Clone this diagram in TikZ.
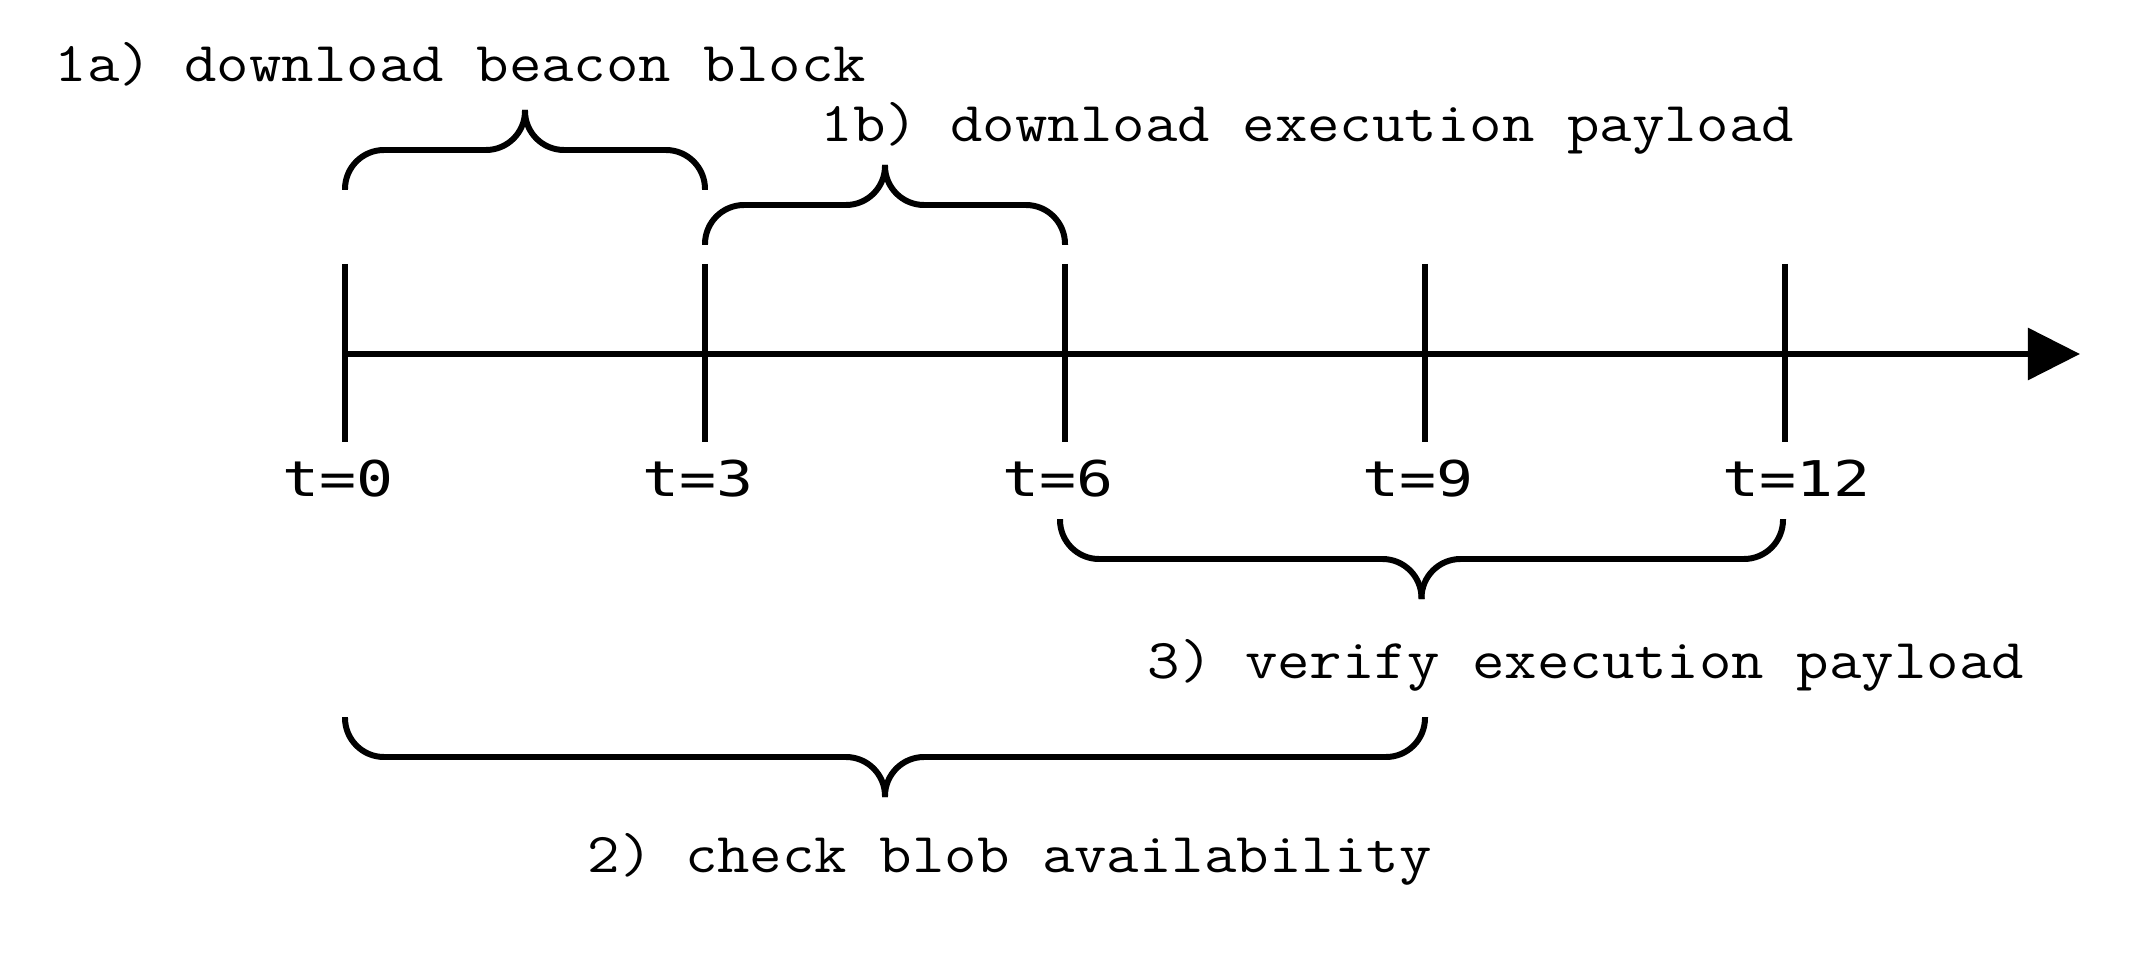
\documentclass[tikz,border=0pt]{standalone}
\usepackage{fontspec}
\newfontfamily\phasefont[FakeStretch=1.12]{Latin Modern Mono}
\newfontfamily\tickfont[FakeStretch=1.25]{DejaVu Sans Mono}
\usetikzlibrary{arrows.meta,positioning}

\tikzset{
  timeline/.style={line width=1.7pt},
  curly/.style={line width=1.7pt, rounded corners=0.39cm},
  phase/.style={font=\phasefont\fontsize{16}{19}\selectfont, inner sep=0pt, anchor=base west},
  stamp/.style={font=\tickfont\fontsize{14}{16}\selectfont, inner sep=0pt, anchor=base west},
}

\begin{document}
\begin{tikzpicture}[x=0.01cm, y=-0.01cm]
\useasboundingbox (0,0) rectangle (2154,970);

% time axis with ticks
\coordinate (tend) at (2080,354);
\foreach \k/\lab in {0/0, 1/3, 2/6, 3/9, 4/12} {
  \coordinate (tick\k) at (345+360*\k,354);
  \draw[timeline] (345+360*\k,264) -- (345+360*\k,442);
  \node[stamp] (stamp\k) at (282+360*\k,496) {t=\lab};
}
\draw[timeline, -{Triangle[length=0.52cm, width=0.51cm]}] (tick0) -- (tend);

% braces: left x / right x / foot y / direction
\foreach \xa/\xb/\yb/\s in {345/705/190/-1, 705/1065/245/-1, 1060/1783/519/1, 345/1425/717/1} {
  \pgfmathsetmacro\xm{(\xa+\xb)/2}
  \draw[curly] (\xa,\yb) -- (\xa,\yb+40*\s) -- (\xm,\yb+40*\s) -- (\xm,\yb+80*\s);
  \draw[curly] (\xb,\yb) -- (\xb,\yb+40*\s) -- (\xm,\yb+40*\s) -- (\xm,\yb+80*\s);
}

% phase labels
\node[phase] (dlblock) at (54,82) {1a) download beacon block};
\node[phase] (dlpayload) at (820,142) {1b) download execution payload};
\node[phase] (verify) at (1147,678) {3) verify execution payload};
\node[phase] (blobs) at (587,872) {2) check blob availability};
\end{tikzpicture}
\end{document}
